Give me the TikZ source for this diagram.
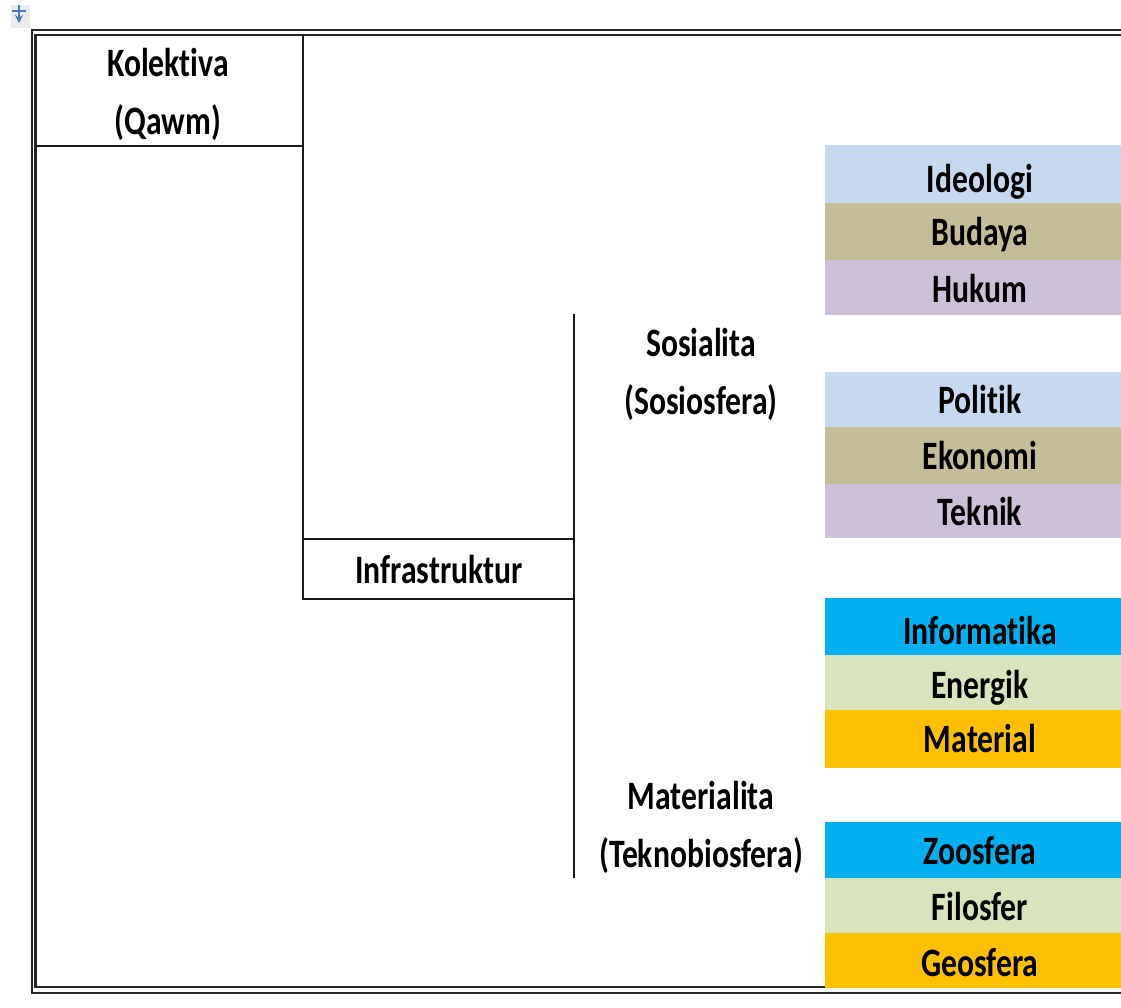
\documentclass[tikz,border=0pt]{standalone}
\usepackage{graphicx}
\usepackage{fontspec}
\setmainfont[Ligatures=NoCommon]{Carlito}
\usetikzlibrary{positioning,calc}
\definecolor{bandblue}{HTML}{C6D9F0}
\definecolor{bandtan}{HTML}{C4BD97}
\definecolor{bandlilac}{HTML}{CCC1D9}
\definecolor{bandcyan}{HTML}{00B0F0}
\definecolor{bandgreen}{HTML}{D8E4BC}
\definecolor{bandamber}{HTML}{FFC000}
\definecolor{iconblue}{HTML}{4A74C4}
\newcommand{\tallname}[1]{\scalebox{.88}[1.12]{#1}}
\tikzstyle{band} = [rectangle, minimum width=232.5pt, inner sep=0pt, outer sep=0pt, line width=.3pt, text centered, text height=24pt, text depth=3pt, font=\bfseries\fontsize{27}{27}\selectfont]
\tikzstyle{label} = [align=center, inner sep=0pt, font=\bfseries\fontsize{27}{43.5}\selectfont]
\tikzstyle{line} = [draw, line width=1.5pt, black!90]
\tikzstyle{frame} = [draw, line width=1.8pt, black!85]
\tikzstyle{glyph} = [draw=iconblue, line width=1.6pt]

\begin{document}
\begin{tikzpicture}[x=0.75pt, y=-0.75pt, node distance=0pt, >=stealth]
    \useasboundingbox (0,0) rectangle (1121,1007);
    \clip (0,0) rectangle (1121,1007);
    % ikon kecil
    \node[fill=black!8, minimum width=14.25pt, minimum height=17pt, inner sep=0pt, anchor=north west] (icon) at (11,5) {};
    \coordinate (glyphTop) at (19,5);
    \coordinate (glyphEnd) at (19,23);
    \coordinate (barL) at (12,11);
    \coordinate (barR) at (26,11);
    \draw[glyph, ->] (glyphTop) -- (glyphEnd);
    \draw[glyph] (barL) -- (barR);

    % bingkai ganda
    \coordinate (outerTR) at (1121,30);
    \coordinate (outerTL) at (32,30);
    \coordinate (outerBL) at (32,993);
    \coordinate (outerBR) at (1121,993);
    \coordinate (innerTR) at (1121,35);
    \coordinate (innerTL) at (35.5,35);
    \coordinate (innerBL) at (35.5,987);
    \coordinate (innerBR) at (1121,987);
    \draw[frame] (outerTR) -- (outerTL) -- (outerBL) -- (outerBR);
    \draw[frame] (innerTR) -- (innerTL) -- (innerBL) -- (innerBR);

    % kolom kiri
    \node[label] (kolektiva) at (168,94) {\tallname{Kolektiva}\\\tallname{(Qawm)}};
    \node[label] (infra) at (439,569.5) {\tallname{Infrastruktur}};
    \coordinate (colA) at (303,35);
    \coordinate (colAend) at (303,599);
    \coordinate (cellL) at (35,146);
    \coordinate (cellR) at (303,146);
    \coordinate (infraTL) at (303,539);
    \coordinate (infraTR) at (574,539);
    \coordinate (infraBR) at (574,599);
    \coordinate (colB) at (574,314);
    \coordinate (colBend) at (574,878);
    \draw[line] (cellL) -- (cellR);
    \draw[line] (colA) -- (colAend) -- (infraBR);
    \draw[line] (infraTL) -- (infraTR);
    \draw[line] (colB) -- (colBend);

    % sosialita dan materialita
    \node[label] (sosial) at (701,374) {\tallname{Sosialita}\\\tallname{(Sosiosfera)}};
    \node[label] (materi) at (701,827) {\tallname{Materialita}\\\tallname{(Teknobiosfera)}};

    % kelompok pita
    \node[band, fill=bandblue, draw=bandblue, minimum height=43.5pt, anchor=north west] (ideologi) at (825,145) {\raisebox{-3pt}{\tallname{Ideologi}}};
    \node[band, fill=bandtan, draw=bandtan, minimum height=42.75pt, below=of ideologi] (budaya) {\tallname{Budaya}};
    \node[band, fill=bandlilac, draw=bandlilac, minimum height=40.5pt, below=of budaya] (hukum) {\raisebox{-1pt}{\tallname{Hukum}}};

    \node[band, fill=bandblue, draw=bandblue, minimum height=41.25pt, anchor=north west] (politik) at (825,372) {\tallname{Politik}};
    \node[band, fill=bandtan, draw=bandtan, minimum height=42.75pt, below=of politik] (ekonomi) {\tallname{Ekonomi}};
    \node[band, fill=bandlilac, draw=bandlilac, minimum height=39.75pt, below=of ekonomi] (teknik) {\raisebox{-1pt}{\tallname{Teknik}}};

    \node[band, fill=bandcyan, draw=bandcyan, minimum height=42.75pt, anchor=north west] (informatika) at (825,598) {\raisebox{-3pt}{\tallname{Informatika}}};
    \node[band, fill=bandgreen, draw=bandgreen, minimum height=41.25pt, below=of informatika] (energik) {\raisebox{-1.5pt}{\tallname{Energik}}};
    \node[band, fill=bandamber, draw=bandamber, minimum height=42.75pt, below=of energik] (material) {\tallname{Material}};

    \node[band, fill=bandcyan, draw=bandcyan, minimum height=42pt, anchor=north west] (zoosfera) at (825,822) {\tallname{Zoosfera}};
    \node[band, fill=bandgreen, draw=bandgreen, minimum height=41.25pt, below=of zoosfera] (filosfer) {\raisebox{-1pt}{\tallname{Filosfer}}};
    \node[band, fill=bandamber, draw=bandamber, minimum height=40.5pt, below=of filosfer] (geosfera) {\raisebox{-1.5pt}{\tallname{Geosfera}}};
\end{tikzpicture}
\end{document}
